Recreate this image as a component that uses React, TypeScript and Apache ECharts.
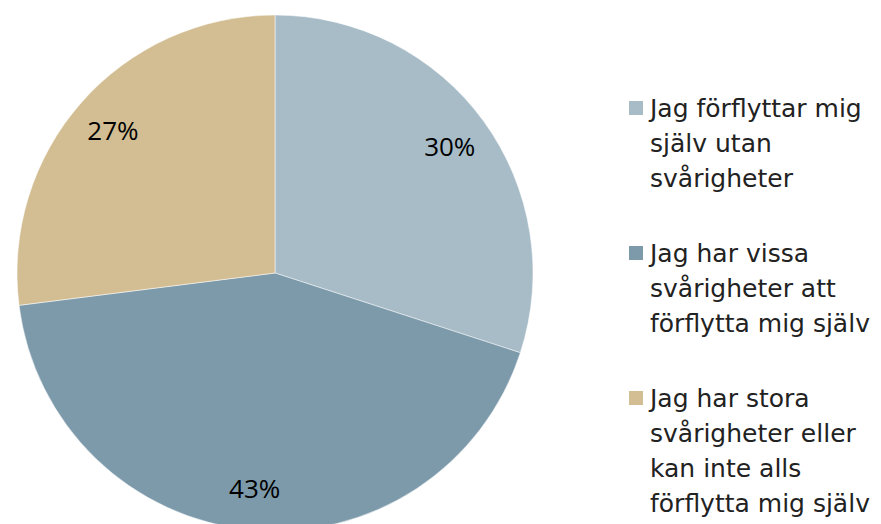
import React, { useEffect, useRef } from "react";
import * as echarts from "echarts";

const categories = [
  "Jag förflyttar mig själv utan svårigheter",
  "Jag har vissa svårigheter att förflytta mig själv",
  "Jag har stora svårigheter eller kan inte alls förflytta mig själv",
];
const values = [30, 43, 27];
const legendLines = [
  ["Jag förflyttar mig", "själv utan", "svårigheter"],
  ["Jag har vissa", "svårigheter att", "förflytta mig själv"],
  ["Jag har stora", "svårigheter eller", "kan inte alls", "förflytta mig själv"],
];
const colors = ["#A7BCC7", "#7D9AAB", "#D3BE94"];

export default function App() {
  const ref = useRef<HTMLDivElement>(null);
  useEffect(() => {
    if (!ref.current) return;
    const chart = echarts.init(ref.current, undefined, { renderer: "svg" });
    const data = categories.map((name, i) => ({
      name,
      value: values[i],
      itemStyle: { color: colors[i] },
    }));
    const lineH = 35;
    const gap = 40;
    const graphics: any[] = [];
    let y = 100;
    legendLines.forEach((lines, i) => {
      graphics.push({
        type: "rect",
        shape: { x: 629, y: y + 1, width: 14, height: 14 },
        style: { fill: colors[i] },
      });
      graphics.push({
        type: "text",
        x: 650,
        y: y - 9,
        style: {
          text: lines.join("\n"),
          font: '25px "DejaVu Sans"',
          fill: "#222222",
          lineHeight: lineH,
          verticalAlign: "top",
          align: "left",
        },
      });
      y += lines.length * lineH + gap;
    });
    chart.setOption({
      animation: false,
      graphic: graphics,
      series: [
        {
          type: "pie",
          center: [275, 273],
          radius: [0, 258],
          startAngle: 90,
          clockwise: true,
          data,
          label: { show: false },
          labelLine: { show: false },
          itemStyle: { borderColor: "#ffffff", borderWidth: 0.5 },
          emphasis: { disabled: true },
          silent: true,
        },
        {
          type: "pie",
          center: [275, 273],
          radius: [168, 258],
          startAngle: 90,
          clockwise: true,
          data: data.map((d) => ({ ...d, itemStyle: { color: "rgba(0,0,0,0)" } })),
          label: {
            show: true,
            position: "inside",
            formatter: (p: any) => `${p.value}%`,
            fontFamily: '"Open Sans", "Liberation Sans", sans-serif',
            fontSize: 26,
            color: "#000000",
          },
          labelLine: { show: false },
          emphasis: { disabled: true },
          silent: true,
        },
      ],
    });
    return () => chart.dispose();
  }, []);
  return <div ref={ref} style={{ width: 881, height: 524, position: "absolute", left: 0, top: 0 }} />;
}
